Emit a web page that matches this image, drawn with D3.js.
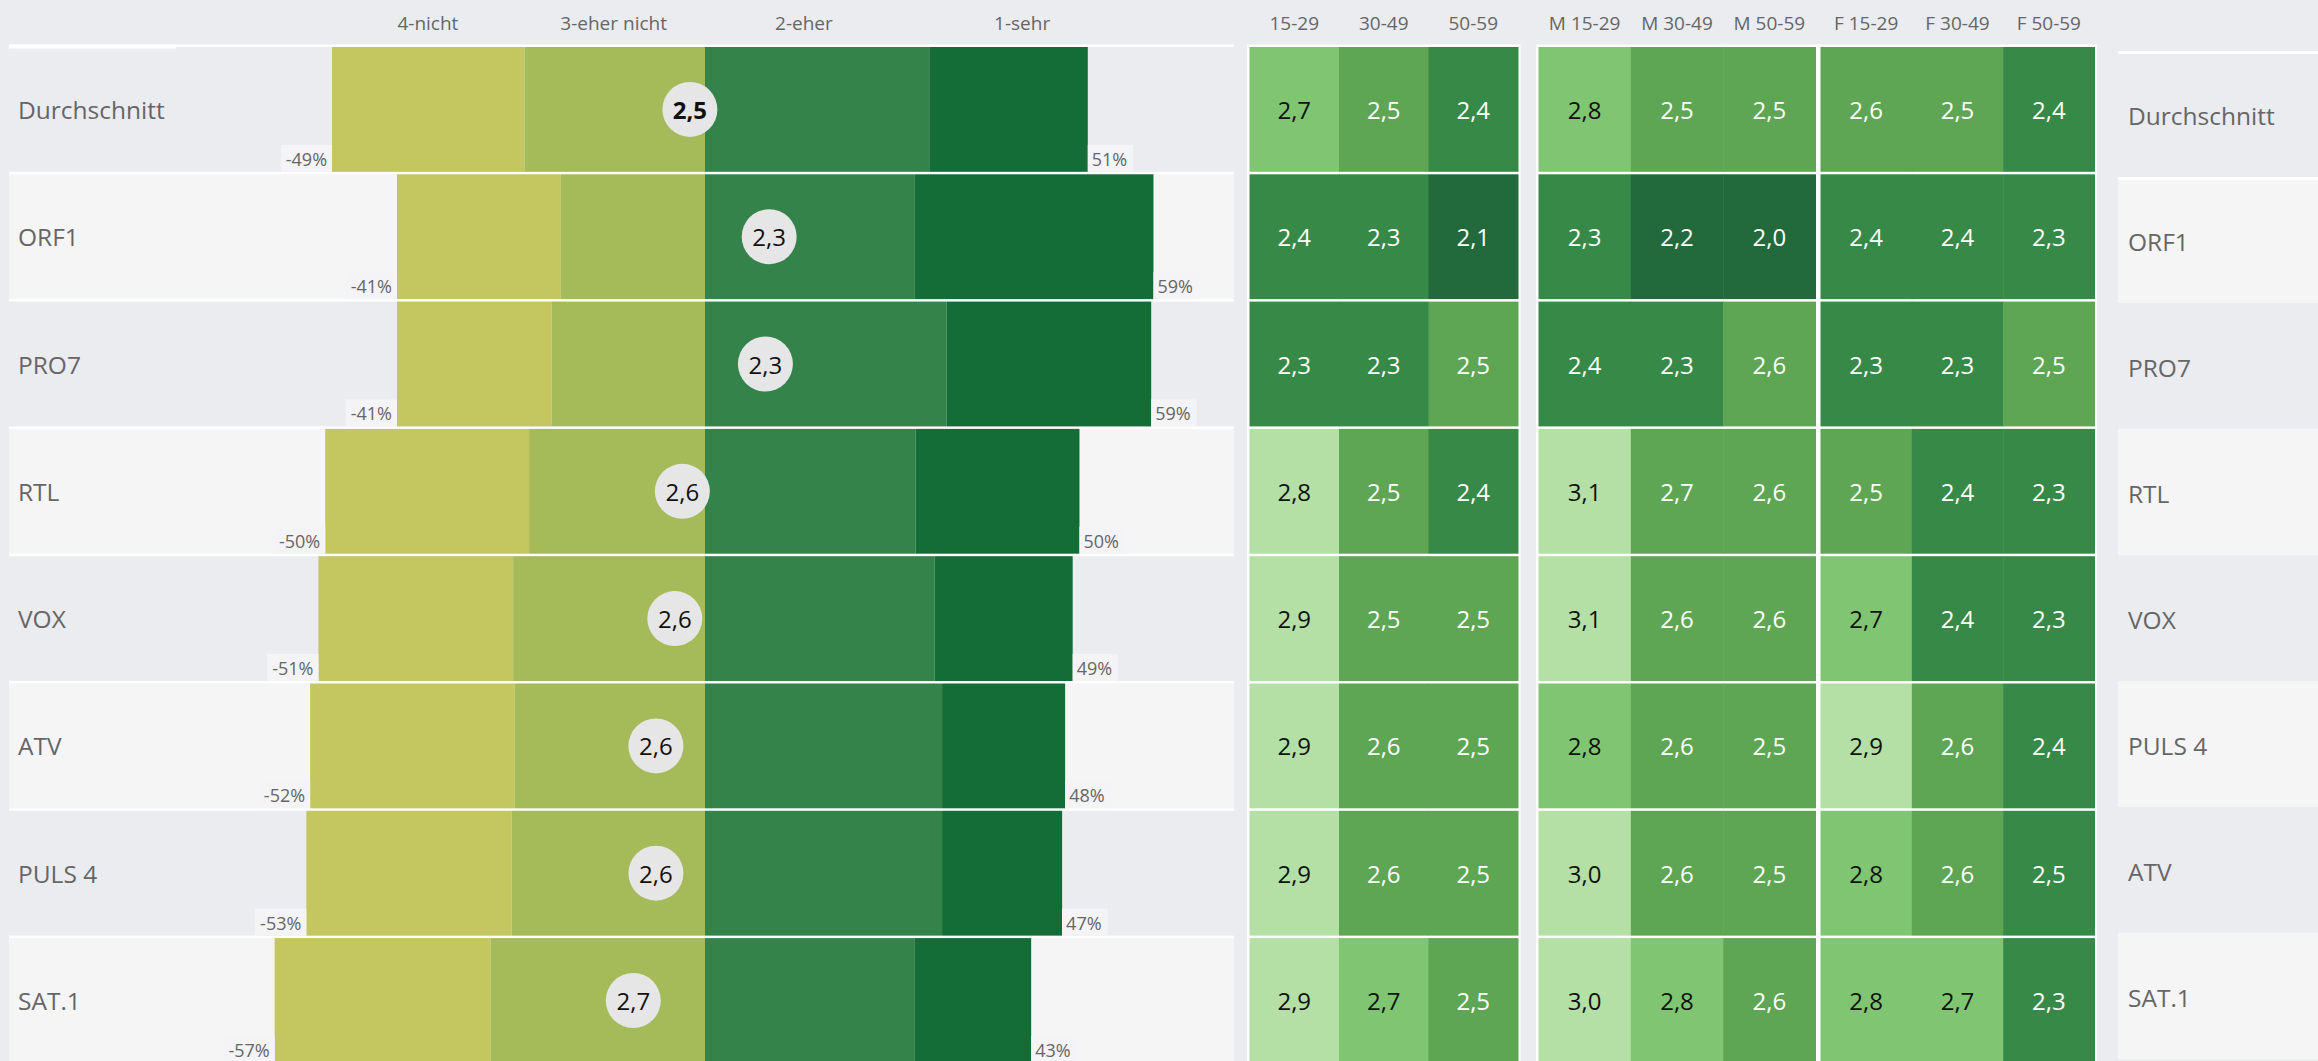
<!DOCTYPE html>
<html lang="de">
<head>
<meta charset="utf-8">
<title>Sender – Bewertung</title>
<script src="https://cdn.jsdelivr.net/npm/d3@7"></script>
<style>
  html, body { margin: 0; padding: 0; background: #ebecf0; overflow: hidden; }
  svg { display: block; font-family: "Open Sans", Lato, sans-serif; }
</style>
</head>
<body>
<div id="chart"></div>
<script>
// --- Daten ---
// linke Grafik: Sender in der Reihenfolge der Balken
const channels = ["Durchschnitt", "ORF1", "PRO7", "RTL", "VOX", "ATV", "PULS 4", "SAT.1"];
const answerLevels = ["4-nicht", "3-eher nicht", "2-eher", "1-sehr"];
// Anteile in % je Antwort
const shareNicht     = [25.5, 21.7, 20.5, 27.0, 25.8, 27.1, 27.2, 28.6];
const shareEherNicht = [23.9, 19.1, 20.3, 23.3, 25.4, 25.2, 25.6, 28.4];
const shareEher      = [29.7, 27.8, 32.0, 27.9, 30.4, 31.4, 31.4, 27.8];
const shareSehr      = [21.0, 31.6, 27.1, 21.7, 18.3, 16.3, 15.9, 15.4];
// Durchschnittsnote (Kreis)
const meanScore = [2.54, 2.33, 2.34, 2.56, 2.58, 2.63, 2.63, 2.69];

// rechte Grafik: Heatmap (Reihenfolge wie rechte Beschriftung)
const heatRows = ["Durchschnitt", "ORF1", "PRO7", "RTL", "VOX", "PULS 4", "ATV", "SAT.1"];
const ageCols    = ["15-29", "30-49", "50-59"];
const maleCols   = ["M 15-29", "M 30-49", "M 50-59"];
const femaleCols = ["F 15-29", "F 30-49", "F 50-59"];
const heatValues = [
  [2.7, 2.5, 2.4,  2.8, 2.5, 2.5,   2.6, 2.5, 2.4],
  [2.4, 2.3, 2.1,  2.3, 2.2, 2.0,   2.4, 2.4, 2.3],
  [2.3, 2.3, 2.5,  2.4, 2.3, 2.6,   2.3, 2.3, 2.5],
  [2.84, 2.5, 2.4, 3.1, 2.67, 2.6,  2.5, 2.4, 2.3],
  [2.9, 2.5, 2.5,  3.1, 2.6, 2.6,   2.7, 2.4, 2.3],
  [2.9, 2.6, 2.5,  2.8, 2.6, 2.5,   2.9, 2.6, 2.4],
  [2.9, 2.6, 2.5,  3.0, 2.6, 2.5,   2.8, 2.6, 2.46],
  [2.9, 2.7, 2.5,  3.0, 2.8, 2.6,   2.8, 2.7, 2.3]
];

// --- Layout ---
const width = 2318, height = 1061;
const bg = "#ebecf0", bgLight = "#f5f5f5", grey = "#666";
const sep = 2.5;                 // weiße Trennlinie zwischen Zeilen
const barColors = ["#c4c660", "#a5bb5a", "#34834a", "#146d37"];
const heatColors = ["#226a3c", "#378948", "#5ea653", "#80c672", "#b4e0a5"];
const fmt = v => d3.format(".1f")(v).replace(".", ",");

const svg = d3.select("#chart").append("svg")
  .attr("width", width)
  .attr("height", height);

svg.append("rect").attr("width", width).attr("height", height).attr("fill", bg);

// Skalen
const x = d3.scaleLinear().domain([-60, 60]).range([705 - 453, 705 + 453]); // 0 % in der Mitte
const scoreX = d3.scaleLinear().domain([2.5, 1.5]).range([x(0), x(50)]);  // Position des Kreises
const yLeft = d3.scaleBand().domain(channels).range([44.5, 44.5 + channels.length * 127.3]);
const yHeat = d3.scaleBand().domain(heatRows).range([44.5, 44.5 + heatRows.length * 127.3]);
const yRight = d3.scaleBand().domain(heatRows).range([51, 51 + heatRows.length * 126]);
const heatColor = d3.scaleThreshold().domain([2.25, 2.5, 2.7, 2.82]).range(heatColors);

// --- 1. linke Grafik: gestapelte Balken ---
const left = svg.append("g");
const panelX0 = 9, panelX1 = 1234;

left.selectAll("rect.rowbg")
  .data(channels)
  .join("rect")
    .attr("class", "rowbg")
    .attr("x", panelX0)
    .attr("width", panelX1 - panelX0)
    .attr("y", d => yLeft(d) + sep)
    .attr("height", yLeft.bandwidth() - sep)
    .attr("fill", (d, i) => i % 2 ? bgLight : bg);

left.selectAll("rect.sep")
  .data(channels)
  .join("rect")
    .attr("class", "sep")
    .attr("x", panelX0)
    .attr("width", panelX1 - panelX0)
    .attr("y", d => yLeft(d))
    .attr("height", sep)
    .attr("fill", "#fff");
// etwas dickerer Anfang der obersten Linie
left.append("rect").attr("x", panelX0).attr("y", yLeft(channels[0])).attr("width", 167).attr("height", 4).attr("fill", "#fff");

// Segmente je Sender aufbauen
const segments = [];
channels.forEach((c, i) => {
  const vals = [shareNicht[i], shareEherNicht[i], shareEher[i], shareSehr[i]];
  let x0 = -(vals[0] + vals[1]);
  vals.forEach((v, k) => {
    segments.push({ channel: c, level: answerLevels[k], k, from: x0, to: x0 + v });
    x0 += v;
  });
});

left.selectAll("rect.seg")
  .data(segments)
  .join("rect")
    .attr("class", "seg")
    .attr("x", d => x(d.from))
    .attr("width", d => x(d.to) - x(d.from))
    .attr("y", d => yLeft(d.channel) + sep)
    .attr("height", yLeft.bandwidth() - sep)
    .attr("fill", d => barColors[d.k]);

// Spaltenköpfe
const headerAt = [-36.7, -12.1, 13.1, 42];
left.selectAll("text.head")
  .data(answerLevels)
  .join("text")
    .attr("class", "head")
    .attr("x", (d, i) => x(headerAt[i]))
    .attr("y", 30)
    .attr("text-anchor", "middle")
    .attr("fill", grey)
    .style("font-size", "19px")
    .text(d => d);

// Senderbeschriftung links
left.selectAll("text.cat")
  .data(channels)
  .join("text")
    .attr("class", "cat")
    .attr("x", 18)
    .attr("y", d => yLeft(d) + sep + (yLeft.bandwidth() - sep) / 2)
    .attr("dominant-baseline", "central")
    .attr("fill", grey)
    .style("font-size", "24.5px")
    .text(d => d);

// Prozentwerte links und rechts, mit hellem Kasten
channels.forEach((c, i) => {
  const neg = shareNicht[i] + shareEherNicht[i];
  const pos = shareEher[i] + shareSehr[i];
  const bottom = yLeft(c) + yLeft.bandwidth();
  [
    { txt: `-${Math.round(neg)}%`, at: x(-neg), anchor: "end", dx: -5 },
    { txt: `${Math.round(pos)}%`, at: x(pos), anchor: "start", dx: 4 }
  ].forEach(l => {
    const g = left.append("g");
    const box = g.append("rect").attr("fill", "#f4f4f6");
    const t = g.append("text")
      .attr("x", l.at + l.dx)
      .attr("y", bottom - 6)
      .attr("text-anchor", l.anchor)
      .attr("fill", grey)
      .style("font-size", "18px")
      .text(l.txt);
    const bb = t.node().getBBox();
    const w = bb.width + 10;
    box.attr("x", l.anchor === "end" ? l.at - w : l.at)
      .attr("y", bottom - 27)
      .attr("width", w)
      .attr("height", 27);
  });
});

// Durchschnittsnote als Kreis
const dots = left.selectAll("g.dot")
  .data(channels)
  .join("g")
    .attr("class", "dot")
    .attr("transform", (d, i) => `translate(${scoreX(meanScore[i])},${yLeft(d) + sep + (yLeft.bandwidth() - sep) / 2})`);

dots.append("circle")
  .attr("r", 27.5)
  .attr("fill", "#e6e6e6");

dots.append("text")
  .attr("text-anchor", "middle")
  .attr("dominant-baseline", "central")
  .attr("fill", "#111")
  .style("font-size", "24px")
  .style("font-weight", (d, i) => i === 0 ? "bold" : "normal")
  .text((d, i) => fmt(meanScore[i]));

// --- 2. Heatmap ---
const heatGroups = [
  { cols: ageCols, offset: 0, range: [1249.5, 1518] },
  { cols: maleCols, offset: 3, range: [1538.5, 1815.5] },
  { cols: femaleCols, offset: 6, range: [1820.5, 2094.5] }
];
const heat = svg.append("g");

heatGroups.forEach(grp => {
  const hx = d3.scaleBand().domain(grp.cols).range(grp.range);
  const gg = heat.append("g");

  // weißer Rahmen um die Gruppe
  gg.append("rect")
    .attr("x", grp.range[0] - 2.5)
    .attr("y", yHeat.range()[0])
    .attr("width", grp.range[1] - grp.range[0] + 5)
    .attr("height", height)
    .attr("fill", "#fff");

  const cells = [];
  heatRows.forEach((r, ri) => grp.cols.forEach((c, ci) => {
    cells.push({ row: r, col: c, value: heatValues[ri][grp.offset + ci] });
  }));

  gg.selectAll("rect.cell")
    .data(cells)
    .join("rect")
      .attr("class", "cell")
      .attr("x", d => hx(d.col))
      .attr("width", hx.bandwidth() + 0.5)
      .attr("y", d => yHeat(d.row) + sep)
      .attr("height", yHeat.bandwidth() - sep)
      .attr("fill", d => heatColor(d.value));

  gg.selectAll("text.val")
    .data(cells)
    .join("text")
      .attr("class", "val")
      .attr("x", d => hx(d.col) + hx.bandwidth() / 2)
      .attr("y", d => yHeat(d.row) + sep + (yHeat.bandwidth() - sep) / 2)
      .attr("text-anchor", "middle")
      .attr("dominant-baseline", "central")
      .attr("fill", d => d.value >= 2.7 ? "#111" : "#fff")
      .style("font-size", "24px")
      .text(d => fmt(d.value));

  gg.selectAll("text.colhead")
    .data(grp.cols)
    .join("text")
      .attr("class", "colhead")
      .attr("x", d => hx(d) + hx.bandwidth() / 2)
      .attr("y", 30)
      .attr("text-anchor", "middle")
      .attr("fill", grey)
      .style("font-size", "19px")
      .text(d => d);
});

// --- 3. rechte Beschriftung ---
const right = svg.append("g");
const rX0 = 2118;

right.selectAll("rect.rbg")
  .data(heatRows)
  .join("rect")
    .attr("class", "rbg")
    .attr("x", rX0)
    .attr("width", width - rX0)
    .attr("y", d => yRight(d))
    .attr("height", yRight.bandwidth())
    .attr("fill", (d, i) => i % 2 ? bgLight : bg);

right.selectAll("rect.rsep")
  .data(heatRows.slice(0, 2))
  .join("rect")
    .attr("class", "rsep")
    .attr("x", rX0)
    .attr("width", width - rX0)
    .attr("y", d => yRight(d))
    .attr("height", 3)
    .attr("fill", "#fff");

right.selectAll("text.rcat")
  .data(heatRows)
  .join("text")
    .attr("class", "rcat")
    .attr("x", 2128)
    .attr("y", d => yRight(d) + 3 + (yRight.bandwidth() - 3) / 2)
    .attr("dominant-baseline", "central")
    .attr("fill", grey)
    .style("font-size", "24.5px")
    .text(d => d);
</script>
</body>
</html>
